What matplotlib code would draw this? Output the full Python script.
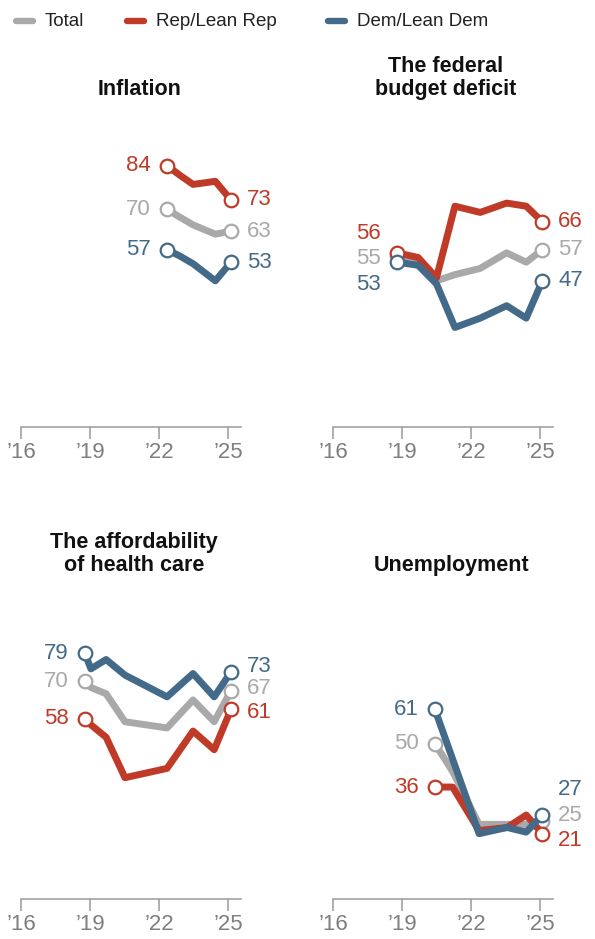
import matplotlib.pyplot as plt
from matplotlib.lines import Line2D

plt.rcParams['font.family'] = ['Liberation Sans', 'DejaVu Sans']

GREY = '#a9a9a9'
RED = '#bf3a27'
BLUE = '#436a88'

# survey dates as decimal years, shares in percent
infl_years = [2022.35, 2022.9, 2023.48, 2024.45, 2025.13]
infl_total = [70, 67.5, 65, 62, 63]
infl_rep = [84, 81, 78, 79, 73]
infl_dem = [57, 55, 52.5, 47, 53]

budget_years = [2018.78, 2019.7, 2020.5, 2021.3, 2022.4, 2023.55, 2024.4, 2025.1]
budget_total = [55, 53, 47, 49, 51, 56, 53, 57]
budget_rep = [56, 54.5, 48, 71, 69, 72, 71, 66]
budget_dem = [53, 52, 46, 32, 35, 39, 35, 47]

health_years = [2018.78, 2019.04, 2019.7, 2020.52, 2022.35, 2023.48, 2024.4, 2025.13]
health_total = [70, 68, 66, 57, 55, 64, 57, 67]
health_rep = [58, 56, 52, 39, 42, 54, 48, 61]
health_dem = [79, 74, 77, 72, 65, 72.5, 65, 73]

unemp_years = [2020.43, 2021.2, 2022.35, 2023.57, 2024.4, 2025.1]
unemp_total = [50, 41, 24, 24, 24, 25]
unemp_rep = [36, 36, 22, 23, 27, 21]
unemp_dem = [61, 45, 21, 23, 21.5, 27]

tick_years = [2016, 2019, 2022, 2025]
tick_labels = ['\u201916', '\u201919', '\u201922', '\u201925']

W, H = 595, 939
SCALE = 3.11      # pixels per percentage point
PX_PER_YEAR = 23
AX_W = 220
YMAX = 100

fig = plt.figure(figsize=(W / 100, H / 100), dpi=100)


def fx(px):
    return px / W


def fy(py):
    return 1 - py / H


def make_axes(left, axis_y):
    ax = fig.add_axes([fx(left), fy(axis_y), AX_W / W, YMAX * SCALE / H])
    ax.set_xlim(2016, 2016 + AX_W / PX_PER_YEAR)
    ax.set_ylim(0, YMAX)
    for side in ['top', 'right', 'left']:
        ax.spines[side].set_visible(False)
    ax.spines['bottom'].set_color('#9a9a9a')
    ax.spines['bottom'].set_linewidth(1.1)
    ax.set_yticks([])
    ax.set_xticks(tick_years)
    ax.set_xticklabels(tick_labels)
    ax.tick_params(axis='x', direction='out', length=8.5, width=1.1,
                   color='#9a9a9a', labelsize=16, labelcolor='#7f7f7f', pad=2.5)
    ax.patch.set_alpha(0)
    return ax


def draw_series(ax, years, values, color, z, left_nudge=0, right_nudge=0):
    n = len(values)
    ax.plot(years, values, color=color, lw=5, solid_joinstyle='round',
            solid_capstyle='round', marker='o', markevery=[0, n - 1],
            ms=9.8, mfc='white', mec=color, mew=1.6, zorder=z, clip_on=False)
    ax.annotate(f'{values[0]:.0f}', xy=(years[0], values[0]),
                xytext=(-16, left_nudge), textcoords='offset pixels',
                ha='right', va='center', fontsize=16, color=color)
    ax.annotate(f'{values[-1]:.0f}', xy=(years[-1], values[-1]),
                xytext=(16, right_nudge), textcoords='offset pixels',
                ha='left', va='center', fontsize=16, color=color)


# (title, title centre px, title bottom px, axes left px, axis line px, series)
panels = [
    ('Inflation', 140, 100, 21, 427,
     [(infl_years, infl_total, GREY, 0, 0),
      (infl_years, infl_rep, RED, 0, 0),
      (infl_years, infl_dem, BLUE, 0, 0)]),
    ('The federal\nbudget deficit', 446, 100, 333, 427,
     [(budget_years, budget_total, GREY, -3, 0),
      (budget_years, budget_rep, RED, 19, 0),
      (budget_years, budget_dem, BLUE, -22, 0)]),
    ('The affordability\nof health care', 134, 576, 21, 899,
     [(health_years, health_total, GREY, 0, 2),
      (health_years, health_rep, RED, 0, -3),
      (health_years, health_dem, BLUE, 0, 5)]),
    ('Unemployment', 452, 576, 333, 899,
     [(unemp_years, unemp_total, GREY, 0, 6),
      (unemp_years, unemp_rep, RED, 0, -7),
      (unemp_years, unemp_dem, BLUE, 0, 26)]),
]

for title, tx, ty, left, axis_y, series in panels:
    ax = make_axes(left, axis_y)
    for z, (years, values, color, ln, rn) in enumerate(series):
        draw_series(ax, years, values, color, 3 + z, ln, rn)
    fig.text(fx(tx), fy(ty), title, ha='center', va='bottom',
             fontsize=15.5, fontweight='bold', color='#111111', linespacing=1.15)

# legend across the top
legend_items = [('Total', GREY, 13), ('Rep/Lean Rep', RED, 124), ('Dem/Lean Dem', BLUE, 325)]
for label, color, x0 in legend_items:
    fig.add_artist(Line2D([fx(x0 + 3), fx(x0 + 20)], [fy(21), fy(21)],
                          color=color, lw=4.6, solid_capstyle='round',
                          transform=fig.transFigure))
    fig.text(fx(x0 + 32), fy(21), label, ha='left', va='center',
             fontsize=13.5, color='#222222')

fig.savefig('out.png', dpi=100)
